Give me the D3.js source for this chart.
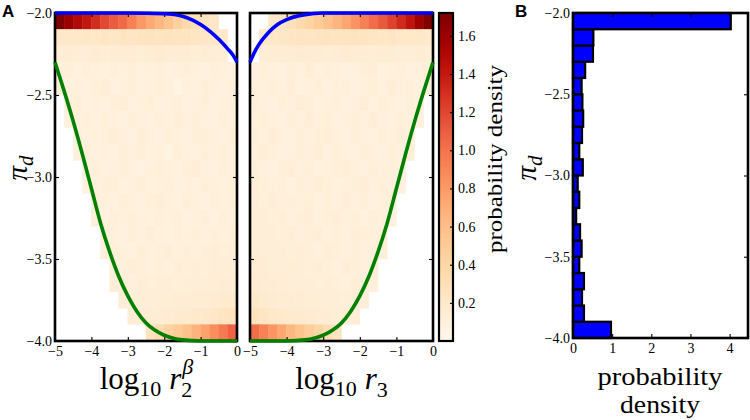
<!DOCTYPE html>
<html><head><meta charset="utf-8">
<script src="https://cdn.jsdelivr.net/npm/d3@7"></script>
<style>body{margin:0;background:#fff}svg{display:block}</style>
</head><body><svg id="c" width="750" height="420"></svg>
<script>
const N = null;
// bin edges (categories)
const logREdges = [-5,-4.75,-4.5,-4.25,-4,-3.75,-3.5,-3.25,-3,-2.75,-2.5,-2.25,-2,-1.75,-1.5,-1.25,-1,-0.75,-0.5,-0.25,0];
const piEdges = [-2.0,-2.1,-2.2,-2.3,-2.4,-2.5,-2.6,-2.7,-2.8,-2.9,-3.0,-3.1,-3.2,-3.3,-3.4,-3.5,-3.6,-3.7,-3.8,-3.9,-4.0];
// tick labels
const xTicksA = [-5,-4,-3,-2,-1,0];
const yTicks = [-4.0,-3.5,-3.0,-2.5,-2.0];
const cbTicks = [0.2,0.4,0.6,0.8,1.0,1.2,1.4,1.6];
const xTicksB = [0,1,2,3,4];

// heatmap: probability density, rows from pi_d = -2.0 (top) downward, cols log10 r from -5
const heatR2 = [
 [1.72,1.60,1.50,1.41,1.31,1.19,1.11,1.04,0.93,0.81,0.72,0.65,0.57,0.45,0.36,0.30,0.26,0.22,N,N],
 [0.20,0.21,0.20,0.22,0.21,0.23,0.22,0.24,0.23,0.25,0.26,0.24,0.26,0.25,0.24,0.23,0.22,0.21,0.19,N],
 [0.13,0.14,0.13,0.12,0.15,0.13,0.14,0.15,0.14,0.13,0.15,0.16,0.14,0.15,0.14,0.13,0.14,0.12,0.13,N],
 [0.10,0.11,0.09,0.11,0.10,0.09,0.11,0.10,0.11,0.09,0.10,0.11,0.09,0.10,0.11,0.10,0.09,0.11,0.10,0.09],
 [0.11,0.09,0.10,0.09,0.11,0.12,0.09,0.10,0.11,0.09,0.10,0.11,0.10,0.06,0.10,0.09,0.11,0.10,0.09,0.10],
 [N,0.10,0.11,0.09,0.10,0.09,0.11,0.12,0.09,0.10,0.11,0.09,0.10,0.11,0.09,0.10,0.11,0.09,0.10,0.11],
 [N,0.09,0.10,0.11,0.09,0.11,0.10,0.08,0.11,0.10,0.09,0.11,0.10,0.12,0.09,0.11,0.10,0.09,0.11,0.10],
 [N,N,0.11,0.09,0.10,0.11,0.12,0.10,0.08,0.11,0.10,0.09,0.11,0.10,0.09,0.11,0.11,0.10,0.09,0.11],
 [N,N,0.10,0.11,0.09,0.10,0.09,0.11,0.10,0.11,0.09,0.10,0.07,0.11,0.10,0.09,0.11,0.10,0.11,0.10],
 [N,N,N,0.10,0.11,0.09,0.10,0.11,0.09,0.08,0.10,0.11,0.10,0.09,0.11,0.12,0.10,0.09,0.11,0.10],
 [N,N,N,0.09,0.10,0.11,0.11,0.09,0.10,0.11,0.09,0.10,0.11,0.08,0.10,0.09,0.11,0.10,0.09,0.11],
 [N,N,N,N,0.11,0.10,0.09,0.11,0.10,0.09,0.11,0.12,0.10,0.09,0.11,0.10,0.09,0.11,0.10,0.11],
 [N,N,N,N,0.10,0.09,0.11,0.10,0.11,0.10,0.09,0.11,0.10,0.11,0.09,0.10,0.11,0.09,0.11,0.10],
 [N,N,N,N,N,0.11,0.10,0.09,0.11,0.10,0.12,0.10,0.09,0.11,0.10,0.11,0.10,0.11,0.10,0.11],
 [N,N,N,N,N,0.10,0.11,0.10,0.09,0.11,0.10,0.11,0.12,0.10,0.11,0.10,0.11,0.12,0.11,0.12],
 [N,N,N,N,N,N,0.11,0.10,0.12,0.11,0.10,0.11,0.10,0.12,0.11,0.12,0.11,0.12,0.13,0.12],
 [N,N,N,N,N,N,0.12,0.11,0.10,0.12,0.11,0.12,0.12,0.11,0.13,0.12,0.13,0.13,0.14,0.14],
 [N,N,N,N,N,N,N,0.12,0.11,0.13,0.12,0.13,0.13,0.14,0.14,0.15,0.15,0.16,0.17,0.18],
 [N,N,N,N,N,N,N,N,0.13,0.14,0.15,0.14,0.16,0.17,0.18,0.19,0.20,0.22,0.24,0.26],
 [N,N,N,N,N,N,N,N,N,N,0.26,0.34,0.43,0.50,0.58,0.67,0.76,0.86,0.96,1.07]
];
const heatR3 = [
 [N,N,0.21,0.24,0.29,0.35,0.42,0.50,0.58,0.66,0.74,0.83,0.93,1.03,1.12,1.22,1.32,1.43,1.58,1.71],
 [N,0.19,0.21,0.22,0.23,0.24,0.23,0.25,0.26,0.24,0.25,0.26,0.24,0.23,0.22,0.23,0.21,0.21,0.20,0.19],
 [N,0.13,0.14,0.15,0.14,0.16,0.14,0.15,0.13,0.14,0.16,0.15,0.14,0.13,0.15,0.14,0.12,0.13,0.14,0.12],
 [0.09,0.11,0.10,0.09,0.11,0.10,0.12,0.09,0.11,0.10,0.08,0.10,0.11,0.12,0.09,0.10,0.11,0.09,0.10,0.11],
 [0.10,0.09,0.11,0.10,0.12,0.09,0.10,0.11,0.08,0.10,0.11,0.09,0.10,0.11,0.09,0.12,0.10,0.11,0.09,0.10],
 [0.11,0.10,0.09,0.11,0.10,0.12,0.11,0.09,0.10,0.11,0.09,0.10,0.12,0.09,0.11,0.10,0.08,0.11,0.10,N],
 [0.10,0.11,0.10,0.09,0.11,0.10,0.12,0.10,0.11,0.09,0.10,0.11,0.10,0.12,0.10,0.09,0.11,0.10,0.09,N],
 [0.11,0.10,0.12,0.10,0.09,0.11,0.10,0.11,0.12,0.10,0.09,0.11,0.10,0.09,0.11,0.10,0.12,0.10,N,N],
 [0.10,0.12,0.11,0.09,0.10,0.11,0.10,0.12,0.09,0.11,0.10,0.09,0.11,0.10,0.08,0.11,0.10,0.11,N,N],
 [0.11,0.10,0.09,0.11,0.12,0.10,0.11,0.09,0.10,0.11,0.12,0.10,0.09,0.11,0.10,0.11,0.10,N,N,N],
 [0.12,0.11,0.10,0.11,0.09,0.11,0.10,0.12,0.11,0.09,0.10,0.11,0.12,0.10,0.11,0.10,0.09,N,N,N],
 [0.12,0.11,0.12,0.10,0.11,0.10,0.11,0.09,0.11,0.10,0.12,0.10,0.11,0.09,0.10,0.11,N,N,N,N],
 [0.13,0.12,0.11,0.12,0.10,0.11,0.12,0.10,0.11,0.12,0.10,0.11,0.09,0.11,0.10,0.09,N,N,N,N],
 [0.13,0.12,0.13,0.11,0.12,0.10,0.11,0.12,0.10,0.11,0.10,0.12,0.11,0.10,0.11,N,N,N,N,N],
 [0.14,0.13,0.12,0.13,0.11,0.12,0.11,0.10,0.12,0.11,0.10,0.11,0.10,0.11,0.10,N,N,N,N,N],
 [0.15,0.14,0.13,0.12,0.13,0.12,0.11,0.12,0.11,0.10,0.12,0.11,0.10,0.11,N,N,N,N,N,N],
 [0.16,0.15,0.14,0.13,0.12,0.13,0.12,0.11,0.12,0.11,0.10,0.12,0.11,0.10,N,N,N,N,N,N],
 [0.19,0.17,0.16,0.15,0.14,0.14,0.13,0.13,0.12,0.12,0.11,0.12,0.11,N,N,N,N,N,N,N],
 [0.26,0.23,0.21,0.19,0.18,0.17,0.16,0.15,0.14,0.13,0.13,0.13,N,N,N,N,N,N,N,N],
 [1.02,0.92,0.82,0.74,0.64,0.56,0.48,0.40,0.32,0.25,N,N,N,N,N,N,N,N,N,N]
];
// boundary curves [log10 r, pi_d]
const blueR2 = [[-5,-2.0],[-3,-2.0],[-2,-2.005],[-1.5,-2.02],[-1.25,-2.04],[-1,-2.07],[-0.75,-2.11],[-0.5,-2.16],[-0.25,-2.22],[-0.1,-2.26],[0,-2.30]];
const greenR2 = [[-5,-2.30],[-4.75,-2.475],[-4.5,-2.66],[-4.25,-2.86],[-4.0,-3.07],[-3.75,-3.28],[-3.5,-3.455],[-3.25,-3.605],[-3.0,-3.725],[-2.75,-3.82],[-2.5,-3.89],[-2.25,-3.935],[-2.0,-3.965],[-1.75,-3.983],[-1.5,-3.993],[-1.0,-4.0],[0,-4.0]];
const blueR3 = [[-5,-2.30],[-4.9,-2.25],[-4.75,-2.19],[-4.5,-2.12],[-4.25,-2.07],[-4.0,-2.04],[-3.5,-2.01],[-3.0,-2.0],[0,-2.0]];
const greenR3 = [[-5,-4.0],[-4,-4.0],[-3.5,-3.993],[-3.25,-3.983],[-3.0,-3.965],[-2.75,-3.935],[-2.5,-3.89],[-2.25,-3.82],[-2.0,-3.725],[-1.75,-3.605],[-1.5,-3.455],[-1.25,-3.28],[-1.0,-3.07],[-0.75,-2.86],[-0.5,-2.66],[-0.25,-2.475],[0,-2.30]];
// histogram of pi_d, bins from -4.0 upward
const histDensity = [0.97,0.28,0.23,0.28,0.16,0.22,0.18,0.08,0.16,0.12,0.25,0.16,0.23,0.26,0.24,0.22,0.31,0.51,0.52,4.03];
const histEdges = [-4.0,-3.9,-3.8,-3.7,-3.6,-3.5,-3.4,-3.3,-3.2,-3.1,-3.0,-2.9,-2.8,-2.7,-2.6,-2.5,-2.4,-2.3,-2.2,-2.1,-2.0];

const svg = d3.select('#c');
const SERIF = "'Liberation Serif','Times New Roman',serif";
const fmt1 = d3.format('.1f'), fmt0 = d3.format('d');

const yA = d3.scaleLinear().domain([-4,-2]).range([341,13]);
const x1 = d3.scaleLinear().domain([-5,0]).range([55,237]);
const x2 = d3.scaleLinear().domain([-5,0]).range([250,433]);
const cbY = d3.scaleLinear().domain([0,1.72]).range([341,13]);
const color = d3.scaleSequential(d3.interpolateOrRd).domain([0,1.72]);
const xB = d3.scaleLinear().domain([0,4.47]).range([573,748]);
const yB = d3.scaleLinear().domain([-4,-2]).range([338,13]);

function styleAxis(g, fs){
  g.attr('font-family',null).attr('font-size',null);
  g.select('.domain').remove();
  g.selectAll('.tick line').attr('stroke','#000').attr('stroke-width',1.1);
  g.selectAll('.tick text').style('font-family',SERIF).style('font-size',fs+'px').attr('fill','#000');
}

function heatPanel(data, xs, withYLabels){
  const g = svg.append('g');
  data.forEach((row,r)=>row.forEach((v,c)=>{
    if(v===null) return;
    const x0 = xs(logREdges[c]), xw = xs(logREdges[c+1]) - x0;
    const y0 = yA(piEdges[r]), yh = yA(piEdges[r+1]) - y0;
    g.append('rect').attr('x',x0).attr('y',y0).attr('width',xw).attr('height',yh)
      .attr('fill',color(v)).attr('stroke',color(v)).attr('stroke-width',0.4);
  }));
  const [L,R] = xs.range(); const [B,T] = yA.range();
  svg.append('g').attr('transform',`translate(0,${B})`)
    .call(d3.axisBottom(xs).tickValues(xTicksA).tickSize(-4).tickPadding(5).tickFormat(fmt0))
    .call(g=>styleAxis(g,14));
  svg.append('g').attr('transform',`translate(0,${T})`)
    .call(d3.axisTop(xs).tickValues(xTicksA).tickSize(-4).tickFormat(''))
    .call(g=>styleAxis(g,14));
  svg.append('g').attr('transform',`translate(${L},0)`)
    .call(d3.axisLeft(yA).tickValues(yTicks).tickSize(-4).tickPadding(3).tickFormat(withYLabels?fmt1:''))
    .call(g=>styleAxis(g,14));
  svg.append('g').attr('transform',`translate(${R},0)`)
    .call(d3.axisRight(yA).tickValues(yTicks).tickSize(-4).tickFormat(''))
    .call(g=>styleAxis(g,14));
  svg.append('rect').attr('x',L).attr('y',T).attr('width',R-L).attr('height',B-T)
    .attr('fill','none').attr('stroke','#000').attr('stroke-width',2.6);
}

heatPanel(heatR2, x1, true);
heatPanel(heatR3, x2, false);

function curve(data, xs, col){
  svg.append('path').datum(data)
    .attr('d', d3.line().x(d=>xs(d[0])).y(d=>yA(d[1])).curve(d3.curveMonotoneX))
    .attr('fill','none').attr('stroke',col).attr('stroke-width',3.6).attr('stroke-linecap','butt');
}
curve(greenR2, x1, '#008000'); curve(blueR2, x1, '#0000ff');
curve(greenR3, x2, '#008000'); curve(blueR3, x2, '#0000ff');

// colorbar
const defs = svg.append('defs');
const grad = defs.append('linearGradient').attr('id','cbg').attr('x1',0).attr('y1',1).attr('x2',0).attr('y2',0);
for(let i=0;i<=40;i++){ grad.append('stop').attr('offset',(i/40)).attr('stop-color', d3.interpolateOrRd(i/40)); }
svg.append('rect').attr('x',439).attr('y',13).attr('width',14).attr('height',328).attr('fill','url(#cbg)')
  .attr('stroke','#000').attr('stroke-width',2.2);
svg.append('g').attr('transform','translate(453,0)')
  .call(d3.axisRight(cbY).tickValues(cbTicks).tickSize(-3).tickPadding(5).tickFormat(fmt1))
  .call(g=>styleAxis(g,14));
svg.append('text').attr('transform','translate(502,159) rotate(-90)').attr('text-anchor','middle')
  .attr('font-family',SERIF).attr('font-size',22).attr('textLength',188).attr('lengthAdjust','spacingAndGlyphs')
  .text('probability density');

// histogram B
const gB = svg.append('g');
gB.selectAll('rect').data(histDensity).join('rect')
  .attr('x', xB(0)).attr('width', d=>xB(d)-xB(0))
  .attr('y', (d,i)=>yB(histEdges[i+1])).attr('height',(d,i)=>yB(histEdges[i])-yB(histEdges[i+1]))
  .attr('fill','#0000ff').attr('stroke','#000').attr('stroke-width',2.2);
svg.append('g').attr('transform','translate(0,338)')
  .call(d3.axisBottom(xB).tickValues(xTicksB).tickSize(-4).tickPadding(5).tickFormat(fmt0))
  .call(g=>styleAxis(g,14));
svg.append('g').attr('transform','translate(0,13)')
  .call(d3.axisTop(xB).tickValues(xTicksB).tickSize(-4).tickFormat(''))
  .call(g=>styleAxis(g,14));
svg.append('g').attr('transform','translate(573,0)')
  .call(d3.axisLeft(yB).tickValues(yTicks).tickSize(-4).tickPadding(3).tickFormat(fmt1))
  .call(g=>styleAxis(g,14));
svg.append('g').attr('transform','translate(748,0)')
  .call(d3.axisRight(yB).tickValues(yTicks).tickSize(-4).tickFormat(''))
  .call(g=>styleAxis(g,14));
svg.append('rect').attr('x',573).attr('y',13).attr('width',175).attr('height',325)
  .attr('fill','none').attr('stroke','#000').attr('stroke-width',2.6);

// axis labels
function logLabel(cx, sub, sup){
  const t = svg.append('text').attr('x',cx).attr('y',389).attr('text-anchor','middle')
    .attr('font-family',SERIF).attr('font-size',31);
  t.append('tspan').text('log');
  t.append('tspan').attr('font-size',22).attr('dy',7).text('10');
  t.append('tspan').attr('font-style','italic').attr('dx',8).attr('dy',-7).text('r');
  t.append('tspan').attr('font-size',22).attr('dy',8).text(sub);
  if(sup){
    const p = t.node().getStartPositionOfChar(6);
    svg.append('text').attr('x',p.x+1).attr('y',374).attr('font-family',SERIF)
      .attr('font-size',22).attr('font-style','italic').text(sup);
  }
}
logLabel(146, '2', 'β');
logLabel(341.5, '3', null);

function piLabel(x, y){
  const t = svg.append('text').attr('transform',`translate(${x},${y}) rotate(-90)`).attr('text-anchor','middle')
    .attr('font-family',SERIF).attr('font-size',29).attr('font-style','italic');
  t.append('tspan').text('π');
  t.append('tspan').attr('font-size',21).attr('dy',6).text('d');
}
piLabel(27, 168);
piLabel(536, 168);

svg.append('text').attr('x',660).attr('y',385).attr('text-anchor','middle').attr('font-family',SERIF)
  .attr('font-size',25).attr('textLength',125).attr('lengthAdjust','spacingAndGlyphs').text('probability');
svg.append('text').attr('x',660).attr('y',413).attr('text-anchor','middle').attr('font-family',SERIF)
  .attr('font-size',25).attr('textLength',80).attr('lengthAdjust','spacingAndGlyphs').text('density');

svg.append('text').attr('x',2).attr('y',17).attr('font-family',"'Liberation Sans',Arial,sans-serif")
  .attr('font-weight','bold').attr('font-size',17).text('A');
svg.append('text').attr('x',515).attr('y',17).attr('font-family',"'Liberation Sans',Arial,sans-serif")
  .attr('font-weight','bold').attr('font-size',17).text('B');
</script></body></html>
